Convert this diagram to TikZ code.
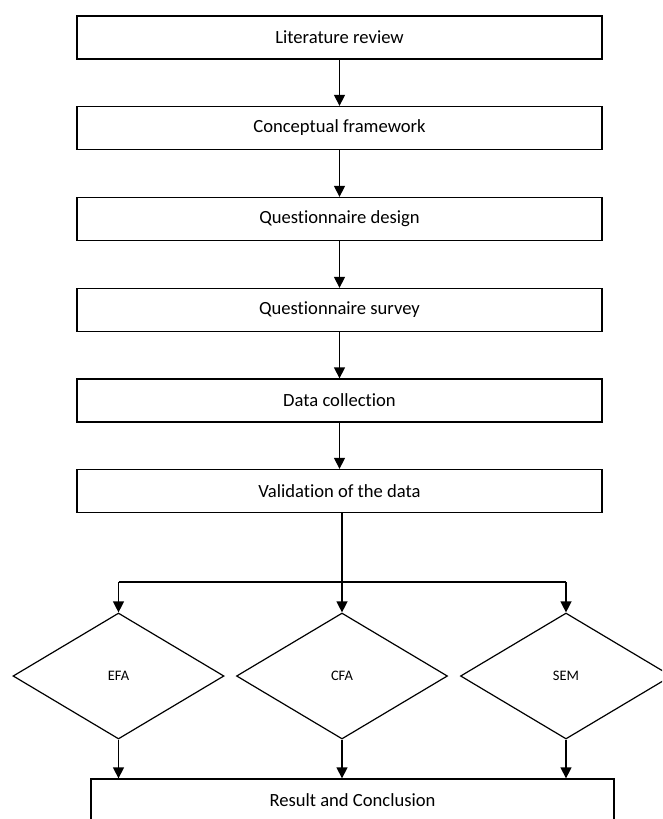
\documentclass[tikz,border=0pt]{standalone}
\usepackage{fontspec}
\setmainfont{Carlito}[Ligatures=CommonOff]
\usetikzlibrary{shapes.geometric,arrows.meta}
\tikzset{
  stepbox/.style={draw, line width=1.3pt, rectangle, minimum width=525pt, minimum height=43pt, inner sep=0pt, font=\fontsize{18.6}{20}\selectfont},
  choice/.style={draw, line width=1.2pt, diamond, aspect=1.675, minimum width=211pt, minimum height=126pt, inner sep=0pt, font=\fontsize{14.5}{16}\selectfont},
  flow/.style={line width=1.3pt, -{Triangle[width=11pt,length=11pt]}},
  plain/.style={line width=1.3pt}
}
\begin{document}
\begin{tikzpicture}[x=1pt,y=-1pt]
  \useasboundingbox (0,0) rectangle (662,819);
  \clip (0,0) rectangle (662,819);
  % main sequence of steps
  \node[stepbox] (b1) at (339.5,37.5) {Literature review};
  \node[stepbox] (b2) at (339.5,128) {Conceptual framework};
  \node[stepbox] (b3) at (339.5,219) {Questionnaire design};
  \node[stepbox] (b4) at (339.5,310) {Questionnaire survey};
  \node[stepbox] (b5) at (339.5,400.5) {Data collection};
  \node[stepbox] (b6) at (339.5,491) {Validation of the data};
  % analysis methods
  \node[choice] (efa) at (118.5,676) {EFA};
  \node[choice] (cfa) at (342,676) {CFA};
  \node[choice] (sem) at (566,676) {SEM};
  % final result
  \node[stepbox, minimum width=523pt] (res) at (352.5,800.5) {Result and Conclusion};
  % branch points
  \coordinate (jl) at (118.5,582);
  \coordinate (jr) at (566,582);
  % connectors
  \draw[flow] (b1) -- (b2);
  \draw[flow] (b2) -- (b3);
  \draw[flow] (b3) -- (b4);
  \draw[flow] (b4) -- (b5);
  \draw[flow] (b5) -- (b6);
  \draw[flow] (b6.south -| cfa.north) -- (cfa.north);
  \draw[plain] (jl) -- (jr);
  \draw[flow] (jl) -- (efa.north);
  \draw[flow] (jr) -- (sem.north);
  \draw[flow] (efa.south) -- (efa.south |- res.north);
  \draw[flow] (cfa.south) -- (cfa.south |- res.north);
  \draw[flow] (sem.south) -- (sem.south |- res.north);
\end{tikzpicture}
\end{document}
